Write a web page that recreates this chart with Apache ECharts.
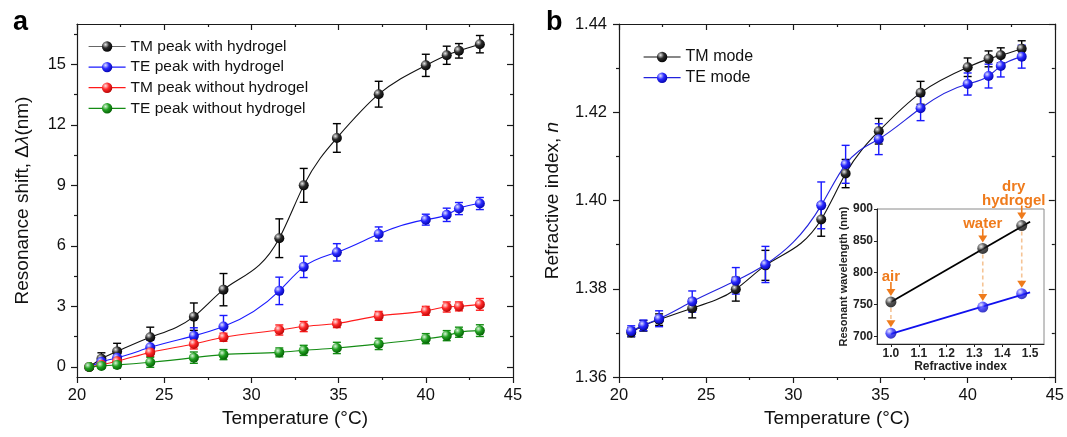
<!DOCTYPE html>
<html>
<head>
<meta charset="utf-8">
<script src="https://cdn.jsdelivr.net/npm/echarts@6/dist/echarts.min.js"></script>
<style>
html,body{margin:0;padding:0;background:#fff;}
#chart{width:1067px;height:437px;}
</style>
</head>
<body>
<div id="chart"></div>
<script>
// ---------------- data ----------------
const temps = [20.7, 21.4, 22.3, 24.2, 26.7, 28.4, 31.6, 33.0, 34.9, 37.3, 40.0, 41.2, 41.9, 43.1];

const tmHydrogel    = [0, 0.40, 0.77, 1.47, 2.49, 3.83, 6.38, 9.00, 11.35, 13.52, 14.95, 15.45, 15.67, 16.00];
const tmHydrogelErr = [0.08, 0.30, 0.40, 0.50, 0.68, 0.80, 0.96, 0.84, 0.71, 0.64, 0.55, 0.45, 0.36, 0.43];
const teHydrogel    = [0, 0.25, 0.45, 0.97, 1.54, 2.00, 3.77, 4.96, 5.68, 6.59, 7.30, 7.54, 7.85, 8.10];
const teHydrogelErr = [0.08, 0.20, 0.30, 0.35, 0.40, 0.55, 0.68, 0.53, 0.43, 0.35, 0.27, 0.33, 0.30, 0.30];
const tmNoGel       = [0, 0.11, 0.28, 0.72, 1.14, 1.47, 1.83, 2.00, 2.15, 2.53, 2.78, 2.97, 3.00, 3.10];
const tmNoGelErr    = [0.08, 0.15, 0.20, 0.20, 0.25, 0.20, 0.25, 0.25, 0.20, 0.22, 0.22, 0.25, 0.22, 0.29];
const teNoGel       = [0, 0.05, 0.10, 0.23, 0.46, 0.61, 0.72, 0.82, 0.94, 1.14, 1.40, 1.55, 1.72, 1.80];
const teNoGelErr    = [0.08, 0.12, 0.15, 0.25, 0.28, 0.25, 0.22, 0.25, 0.28, 0.28, 0.25, 0.25, 0.25, 0.29];

const tmIndex    = [1.3701, 1.3716, 1.3730, 1.3756, 1.3799, 1.3853, 1.3957, 1.4061, 1.4157, 1.4244, 1.4302, 1.4321, 1.4329, 1.4344];
const tmIndexErr = [0.0010, 0.0012, 0.0013, 0.0022, 0.0027, 0.0034, 0.0038, 0.0032, 0.0029, 0.0026, 0.0021, 0.0018, 0.0017, 0.0018];
const teIndex    = [1.3704, 1.3717, 1.3732, 1.3771, 1.3818, 1.3855, 1.3989, 1.4082, 1.4139, 1.4209, 1.4264, 1.4282, 1.4305, 1.4326];
const teIndexErr = [0.0012, 0.0012, 0.0018, 0.0024, 0.0030, 0.0041, 0.0053, 0.0043, 0.0035, 0.0028, 0.0025, 0.0027, 0.0025, 0.0026];

// inset
const mediumIndex  = [1.0, 1.33, 1.47];
const mediumNames  = ['air', 'water', 'dry\nhydrogel'];
const tmWavelength = [754, 838, 874];
const teWavelength = [705, 746, 767];
const fitIndex     = [1.0, 1.5];
const tmFit        = [754, 880];
const teFit        = [704, 769];

// tick labels
const yTicksA   = [0, 3, 6, 9, 12, 15];
const yMinorA   = [1.5, 4.5, 7.5, 10.5, 13.5, 16.5];
const insetXTicks = [1.0, 1.1, 1.2, 1.3, 1.4, 1.5];
const insetYTicks = [700, 750, 800, 850, 900];

// ---------------- helpers ----------------
const FONT = 'Liberation Sans, Arial, sans-serif';
const AX = '#1a1a1a';
const ORANGE = '#ef7b1c';

function pairs(xs, ys) { return xs.map((x, i) => [x, ys[i]]); }
function triples(xs, ys, es) { return xs.map((x, i) => [x, ys[i], es[i]]); }

function sphere(light, base, dark) {
  return { type: 'radial', x: 0.35, y: 0.32, r: 0.75,
    colorStops: [{ offset: 0, color: light }, { offset: 0.45, color: base }, { offset: 1, color: dark }] };
}
const SPH = {
  black: sphere('#e8e8e8', '#2a2a2a', '#000000'),
  blue:  sphere('#e0e0ff', '#2a2aff', '#0000a8'),
  red:   sphere('#ffe0e0', '#ff2a2a', '#b00000'),
  green: sphere('#d8f5d8', '#22a022', '#005a00')
};

// tangent slopes of a natural cubic spline through the points (used to draw a smooth curve)
function splineSlopes(xs, ys) {
  const n = xs.length, h = [], d = [];
  for (let i = 0; i < n - 1; i++) { h[i] = xs[i + 1] - xs[i]; d[i] = (ys[i + 1] - ys[i]) / h[i]; }
  const M = new Array(n).fill(0), b = [], c = [], r = [], a = [];
  for (let i = 1; i < n - 1; i++) { a[i] = h[i - 1]; b[i] = 2 * (h[i - 1] + h[i]); c[i] = h[i]; r[i] = 6 * (d[i] - d[i - 1]); }
  for (let i = 2; i < n - 1; i++) { const w = a[i] / b[i - 1]; b[i] -= w * c[i - 1]; r[i] -= w * r[i - 1]; }
  for (let i = n - 2; i >= 1; i--) { M[i] = (r[i] - c[i] * M[i + 1]) / b[i]; }
  const m = [];
  for (let i = 0; i < n - 1; i++) m[i] = d[i] - h[i] * (2 * M[i] + M[i + 1]) / 6;
  m[n - 1] = d[n - 2] + h[n - 2] * (M[n - 2] + 2 * M[n - 1]) / 6;
  return m;
}

function curveSeries(xi, yi, xs, ys, color) {
  const m = splineSlopes(xs, ys);
  return {
    type: 'custom', xAxisIndex: xi, yAxisIndex: yi, z: 4, animation: false, silent: true,
    data: xs.slice(0, -1).map((x, i) => [x, ys[i], m[i], xs[i + 1], ys[i + 1], m[i + 1]]),
    encode: { x: 0, y: 1 },
    renderItem: function (params, api) {
      const x0 = api.value(0), y0 = api.value(1), m0 = api.value(2);
      const x1 = api.value(3), y1 = api.value(4), m1 = api.value(5);
      const hh = (x1 - x0) / 3;
      const p0 = api.coord([x0, y0]), c1 = api.coord([x0 + hh, y0 + m0 * hh]);
      const c2 = api.coord([x1 - hh, y1 - m1 * hh]), p3 = api.coord([x1, y1]);
      return { type: 'bezierCurve',
        shape: { x1: p0[0], y1: p0[1], x2: p3[0], y2: p3[1], cpx1: c1[0], cpy1: c1[1], cpx2: c2[0], cpy2: c2[1] },
        style: { stroke: color, fill: null, lineWidth: 1.1 } };
    }
  };
}

function pointSeries(name, xi, yi, xs, ys, color, sph) {
  return {
    name, type: 'line', xAxisIndex: xi, yAxisIndex: yi,
    data: pairs(xs, ys), symbol: 'circle', symbolSize: 10,
    lineStyle: { color, width: 0, opacity: 0 }, itemStyle: { color: sph, borderWidth: 0 },
    z: 5, animation: false
  };
}

function errSeries(xi, yi, xs, ys, es, color) {
  return {
    type: 'custom', xAxisIndex: xi, yAxisIndex: yi, z: 3, animation: false,
    data: triples(xs, ys, es), encode: { x: 0, y: 1 },
    renderItem: function (params, api) {
      const x = api.value(0), y = api.value(1), e = api.value(2);
      const t = api.coord([x, y + e]), b = api.coord([x, y - e]);
      const cx = t[0], w = 4;
      const st = { stroke: color, lineWidth: 1.4 };
      return { type: 'group', children: [
        { type: 'line', shape: { x1: cx, y1: t[1], x2: cx, y2: b[1] }, style: st },
        { type: 'line', shape: { x1: cx - w, y1: t[1], x2: cx + w, y2: t[1] }, style: st },
        { type: 'line', shape: { x1: cx - w, y1: b[1], x2: cx + w, y2: b[1] }, style: st }
      ]};
    }
  };
}

const lab = { fontFamily: FONT, fontSize: 16.5, color: '#111' };
const lsty = { color: AX, width: 1.2 };

function xAxisPair(grid, name) {
  return [
    { gridIndex: grid, type: 'value', min: 20, max: 45, interval: 5, position: 'bottom',
      axisLine: { show: true, onZero: false, lineStyle: lsty },
      axisTick: { show: true, inside: false, length: 6, lineStyle: lsty },
      minorTick: { show: true, splitNumber: 2, length: 3, lineStyle: lsty },
      splitLine: { show: false }, minorSplitLine: { show: false },
      axisLabel: Object.assign({ margin: 10 }, lab),
      name: name, nameLocation: 'middle', nameGap: 31,
      nameTextStyle: { fontFamily: FONT, fontSize: 19, color: '#111' } },
    { gridIndex: grid, type: 'value', min: 20, max: 45, interval: 5, position: 'top',
      axisLine: { show: true, onZero: false, lineStyle: lsty },
      axisTick: { show: true, inside: true, length: 6, lineStyle: lsty },
      minorTick: { show: true, splitNumber: 2, length: 3, lineStyle: lsty },
      splitLine: { show: false }, axisLabel: { show: false } }
  ];
}

function legendItem(name, color) {
  return { name: name, lineStyle: { color: color, width: 1.2, opacity: 1 } };
}

const option = {
  animation: false,
  backgroundColor: '#fff',
  textStyle: { fontFamily: FONT },
  grid: [
    { left: 77, top: 24, width: 436, height: 353, containLabel: false },
    { left: 619, top: 24, width: 437, height: 353, containLabel: false },
    { left: 877, top: 209, width: 167, height: 135, show: true, backgroundColor: '#fff', borderColor: '#8a8a8a', borderWidth: 1, z: 6 }
  ],
  xAxis: [
    ...xAxisPair(0, 'Temperature (°C)'),
    ...xAxisPair(1, 'Temperature (°C)'),
    { gridIndex: 2, type: 'value', min: 0.95, max: 1.55, position: 'bottom', z: 7,
      axisLine: { show: true, onZero: false, lineStyle: { color: '#222', width: 1 } },
      axisTick: { show: true, inside: false, length: 3, customValues: insetXTicks, lineStyle: { color: '#222' } },
      axisLabel: { customValues: insetXTicks, formatter: v => v.toFixed(1), fontFamily: FONT, fontSize: 12, fontWeight: 'bold', color: '#222', margin: 4 },
      splitLine: { show: false },
      name: 'Refractive index', nameLocation: 'middle', nameGap: 17,
      nameTextStyle: { fontFamily: FONT, fontSize: 12, fontWeight: 'bold', color: '#222' } }
  ],
  yAxis: [
    // panel a
    { gridIndex: 0, type: 'value', min: -0.5, max: 17, position: 'left',
      axisLine: { show: true, onZero: false, lineStyle: lsty },
      axisTick: { show: true, inside: false, length: 6, customValues: yTicksA, lineStyle: lsty },
      axisLabel: Object.assign({ customValues: yTicksA, margin: 11 }, lab),
      splitLine: { show: false },
      name: 'Resonance shift, Δ{i|λ}(nm)', nameLocation: 'middle', nameGap: 45, nameRotate: 90,
      nameTextStyle: { fontFamily: FONT, fontSize: 19, color: '#111', rich: { i: { fontStyle: 'italic', fontFamily: FONT, fontSize: 19, color: '#111' } } } },
    { gridIndex: 0, type: 'value', min: -0.5, max: 17, position: 'left',
      axisLine: { show: false }, axisTick: { show: true, inside: false, length: 3, customValues: yMinorA, lineStyle: lsty },
      axisLabel: { show: false }, splitLine: { show: false } },
    { gridIndex: 0, type: 'value', min: -0.5, max: 17, position: 'right',
      axisLine: { show: true, onZero: false, lineStyle: lsty },
      axisTick: { show: true, inside: true, length: 6, customValues: yTicksA, lineStyle: lsty },
      axisLabel: { show: false }, splitLine: { show: false } },
    { gridIndex: 0, type: 'value', min: -0.5, max: 17, position: 'right',
      axisLine: { show: false }, axisTick: { show: true, inside: true, length: 3, customValues: yMinorA, lineStyle: lsty },
      axisLabel: { show: false }, splitLine: { show: false } },
    // panel b
    { gridIndex: 1, type: 'value', min: 1.36, max: 1.44, interval: 0.02, position: 'left',
      axisLine: { show: true, onZero: false, lineStyle: lsty },
      axisTick: { show: true, inside: false, length: 6, lineStyle: lsty },
      minorTick: { show: true, splitNumber: 2, length: 3, lineStyle: lsty },
      axisLabel: Object.assign({ margin: 12, formatter: v => v.toFixed(2) }, lab),
      splitLine: { show: false },
      name: 'Refractive index, {i|n}', nameLocation: 'middle', nameGap: 57, nameRotate: 90,
      nameTextStyle: { fontFamily: FONT, fontSize: 19, color: '#111', rich: { i: { fontStyle: 'italic', fontFamily: FONT, fontSize: 19, color: '#111' } } } },
    { gridIndex: 1, type: 'value', min: 1.36, max: 1.44, interval: 0.02, position: 'right',
      axisLine: { show: true, onZero: false, lineStyle: lsty },
      axisTick: { show: true, inside: true, length: 6, lineStyle: lsty },
      minorTick: { show: true, splitNumber: 2, length: 3, lineStyle: lsty },
      axisLabel: { show: false }, splitLine: { show: false } },
    // inset
    { gridIndex: 2, type: 'value', min: 688, max: 900, position: 'left', z: 7,
      axisLine: { show: true, onZero: false, lineStyle: { color: '#222', width: 1 } },
      axisTick: { show: true, inside: false, length: 3, customValues: insetYTicks, lineStyle: { color: '#222' } },
      axisLabel: { customValues: insetYTicks, fontFamily: FONT, fontSize: 12, fontWeight: 'bold', color: '#222', margin: 4 },
      splitLine: { show: false },
      name: 'Resonant wavelength (nm)', nameLocation: 'middle', nameGap: 25, nameRotate: 90,
      nameTextStyle: { fontFamily: FONT, fontSize: 11, fontWeight: 'bold', color: '#222' } }
  ],
  legend: [
    { data: [legendItem('TM peak with hydrogel', '#666'), legendItem('TE peak with hydrogel', '#1a1aff'),
             legendItem('TM peak without hydrogel', '#ff1a1a'), legendItem('TE peak without hydrogel', '#148c14')],
      orient: 'vertical', left: 88, top: 38.5, padding: 0, itemWidth: 37, itemHeight: 13, itemGap: 4.6,
      selectedMode: false, textStyle: { fontFamily: FONT, fontSize: 15.5, lineHeight: 16, color: '#111' } },
    { data: [legendItem('TM mode', '#111'), legendItem('TE mode', '#2222dd')],
      orient: 'vertical', left: 643, top: 49, padding: 0, itemWidth: 37, itemHeight: 13, itemGap: 4.7,
      selectedMode: false, textStyle: { fontFamily: FONT, fontSize: 16, lineHeight: 16, color: '#111' } }
  ],
  graphic: [
    { type: 'text', x: 13, y: 9, style: { text: 'a', font: 'bold 27px ' + FONT, fill: '#000' } },
    { type: 'text', x: 546, y: 9, style: { text: 'b', font: 'bold 27px ' + FONT, fill: '#000' } }
  ],
  series: [
    // panel a
    errSeries(0, 0, temps, tmHydrogel, tmHydrogelErr, '#000'),
    errSeries(0, 0, temps, teHydrogel, teHydrogelErr, '#1a1aff'),
    errSeries(0, 0, temps, tmNoGel, tmNoGelErr, '#ff1a1a'),
    errSeries(0, 0, temps, teNoGel, teNoGelErr, '#148c14'),
    curveSeries(0, 0, temps, tmHydrogel, '#111'),
    curveSeries(0, 0, temps, teHydrogel, '#1a1aff'),
    curveSeries(0, 0, temps, tmNoGel, '#ff1a1a'),
    curveSeries(0, 0, temps, teNoGel, '#148c14'),
    pointSeries('TM peak with hydrogel', 0, 0, temps, tmHydrogel, '#111', SPH.black),
    pointSeries('TE peak with hydrogel', 0, 0, temps, teHydrogel, '#1a1aff', SPH.blue),
    pointSeries('TM peak without hydrogel', 0, 0, temps, tmNoGel, '#ff1a1a', SPH.red),
    pointSeries('TE peak without hydrogel', 0, 0, temps, teNoGel, '#148c14', SPH.green),
    // panel b
    errSeries(2, 4, temps, tmIndex, tmIndexErr, '#000'),
    errSeries(2, 4, temps, teIndex, teIndexErr, '#1a1aff'),
    curveSeries(2, 4, temps, tmIndex, '#111'),
    curveSeries(2, 4, temps, teIndex, '#2222dd'),
    pointSeries('TM mode', 2, 4, temps, tmIndex, '#111', SPH.black),
    pointSeries('TE mode', 2, 4, temps, teIndex, '#2222dd', SPH.blue),
    // inset fits
    { type: 'line', xAxisIndex: 4, yAxisIndex: 6, data: pairs(fitIndex, tmFit), symbol: 'none',
      lineStyle: { color: '#000', width: 1.8 }, z: 8, animation: false },
    { type: 'line', xAxisIndex: 4, yAxisIndex: 6, data: pairs(fitIndex, teFit), symbol: 'none',
      lineStyle: { color: '#1010ee', width: 1.8 }, z: 8, animation: false },
    // inset annotations
    { type: 'custom', xAxisIndex: 4, yAxisIndex: 6, z: 9, animation: false, clip: false,
      data: mediumIndex.map((x, i) => [x, tmWavelength[i], teWavelength[i], i]),
      encode: { x: 0, y: 1 },
      renderItem: function (params, api) {
        const x = api.value(0), i = api.value(3);
        const p1 = api.coord([x, api.value(1)]);
        const p2 = api.coord([x, api.value(2)]);
        const cx = p1[0];
        const dx = (i === mediumNames.length - 1) ? -8 : 0;
        return { type: 'group', children: [
          { type: 'text', style: { text: mediumNames[i], x: cx + dx, y: p1[1] - 18, align: 'center', verticalAlign: 'bottom',
              font: 'bold 15px ' + FONT, fill: ORANGE, lineHeight: 14 } },
          { type: 'line', shape: { x1: cx, y1: p1[1] - 20, x2: cx, y2: p1[1] - 12 }, style: { stroke: ORANGE, lineWidth: 1.6 } },
          { type: 'polygon', shape: { points: [[cx - 4.5, p1[1] - 13], [cx + 4.5, p1[1] - 13], [cx, p1[1] - 6]] }, style: { fill: ORANGE } },
          { type: 'line', shape: { x1: cx, y1: p1[1] + 6, x2: cx, y2: p2[1] - 12 }, style: { stroke: '#f5c495', lineWidth: 1.6, lineDash: [4, 3] } },
          { type: 'polygon', shape: { points: [[cx - 4.5, p2[1] - 13], [cx + 4.5, p2[1] - 13], [cx, p2[1] - 6]] }, style: { fill: ORANGE } }
        ]};
      }
    },
    // inset points
    { type: 'scatter', xAxisIndex: 4, yAxisIndex: 6, data: pairs(mediumIndex, tmWavelength), symbolSize: 11,
      itemStyle: { color: SPH.black }, z: 10, animation: false },
    { type: 'scatter', xAxisIndex: 4, yAxisIndex: 6, data: pairs(mediumIndex, teWavelength), symbolSize: 11,
      itemStyle: { color: SPH.blue }, z: 10, animation: false }
  ]
};

const chart = echarts.init(document.getElementById('chart'), null, { renderer: 'canvas' });
chart.setOption(option);
</script>
</body>
</html>
